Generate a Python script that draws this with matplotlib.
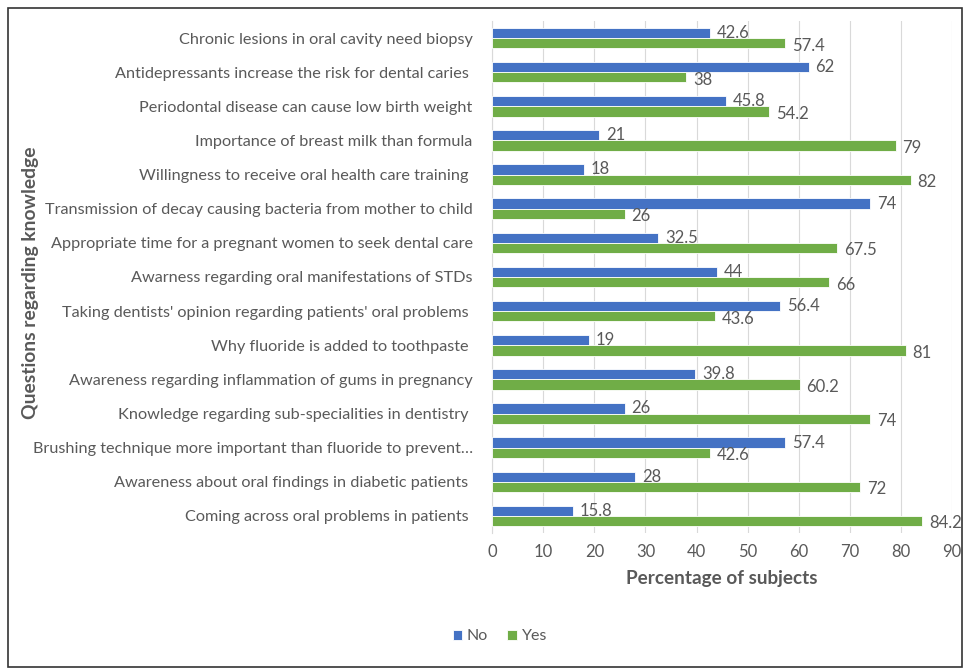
import numpy as np
import matplotlib.pyplot as plt
from matplotlib.patches import Rectangle

# Knowledge questions (top to bottom as shown)
questions = [
    "Chronic lesions in oral cavity need biopsy",
    "Antidepressants increase the risk for dental caries ",
    "Periodontal disease can cause low birth weight",
    "Importance of breast milk than formula",
    "Willingness to receive oral health care training ",
    "Transmission of decay causing bacteria from mother to child",
    "Appropriate time for a pregnant women to seek dental care",
    "Awarness regarding oral manifestations of STDs",
    "Taking dentists' opinion regarding patients' oral problems ",
    "Why fluoride is added to toothpaste ",
    "Awareness regarding inflammation of gums in pregnancy",
    "Knowledge regarding sub-specialities in dentistry ",
    "Brushing technique more important than fluoride to prevent\u2026",
    "Awareness about oral findings in diabetic patients ",
    "Coming across oral problems in patients ",
]
no_vals = [42.6, 62, 45.8, 21, 18, 74, 32.5, 44, 56.4, 19, 39.8, 26, 57.4, 28, 15.8]
yes_vals = [57.4, 38, 54.2, 79, 82, 26, 67.5, 66, 43.6, 81, 60.2, 74, 42.6, 72, 84.2]
x_ticks = [0, 10, 20, 30, 40, 50, 60, 70, 80, 90]

plt.rcParams['font.family'] = ['Lato', 'DejaVu Sans']
grey = '#595959'
blue = '#4472C4'
green = '#70AD47'

fig = plt.figure(figsize=(9.65, 6.69), dpi=100)
ax = fig.add_axes([0.51, 0.2033, 0.4765, 0.7653])

y = np.arange(len(questions))
h = 0.3
ax.barh(y - h / 2, no_vals, height=h, color=blue, edgecolor='white', linewidth=0.6, label='No', zorder=3)
ax.barh(y + h / 2, yes_vals, height=h, color=green, edgecolor='white', linewidth=0.6, label='Yes', zorder=3)

for yi, v in zip(y, no_vals):
    ax.text(v + 1.3, yi - h / 2, f"{v:g}", va='center', ha='left', fontsize=12, color=grey, zorder=4)
for yi, v in zip(y, yes_vals):
    ax.text(v + 1.3, yi + h / 2 + 0.07, f"{v:g}", va='center', ha='left', fontsize=12, color=grey, zorder=4)

ax.set_ylim(len(questions) - 0.5, -0.5)
ax.set_xlim(0, 90)
ax.set_xticks(x_ticks)
ax.set_yticks(y)
ax.set_yticklabels(questions, fontsize=11.7, color=grey)
ax.tick_params(axis='x', labelsize=12, colors=grey, length=0, pad=8)
ax.tick_params(axis='y', length=0, pad=14)
ax.grid(axis='x', color='#D9D9D9', linewidth=0.8, zorder=0)
for s in ['top', 'right', 'bottom']:
    ax.spines[s].set_visible(False)
ax.spines['left'].set_color('#D9D9D9')

ax.set_xlabel('Percentage of subjects', fontsize=13.6, fontweight='bold', color=grey, labelpad=7)
fig.text(0.032, 0.578, 'Questions regarding knowledge', rotation=90, fontsize=13.9,
         fontweight='bold', color=grey, ha='center', va='center')

fig.legend(loc='center', bbox_to_anchor=(0.518, 0.049), ncol=2, frameon=False,
           fontsize=11.5, handlelength=0.6, handleheight=0.6, columnspacing=1.2,
           handletextpad=0.3, labelcolor=grey)

fig.patches.append(Rectangle((0.008, 0.003), 0.989, 0.985, transform=fig.transFigure,
                             fill=False, edgecolor='#333333', linewidth=1.2))

fig.savefig('out.png', dpi=100)
